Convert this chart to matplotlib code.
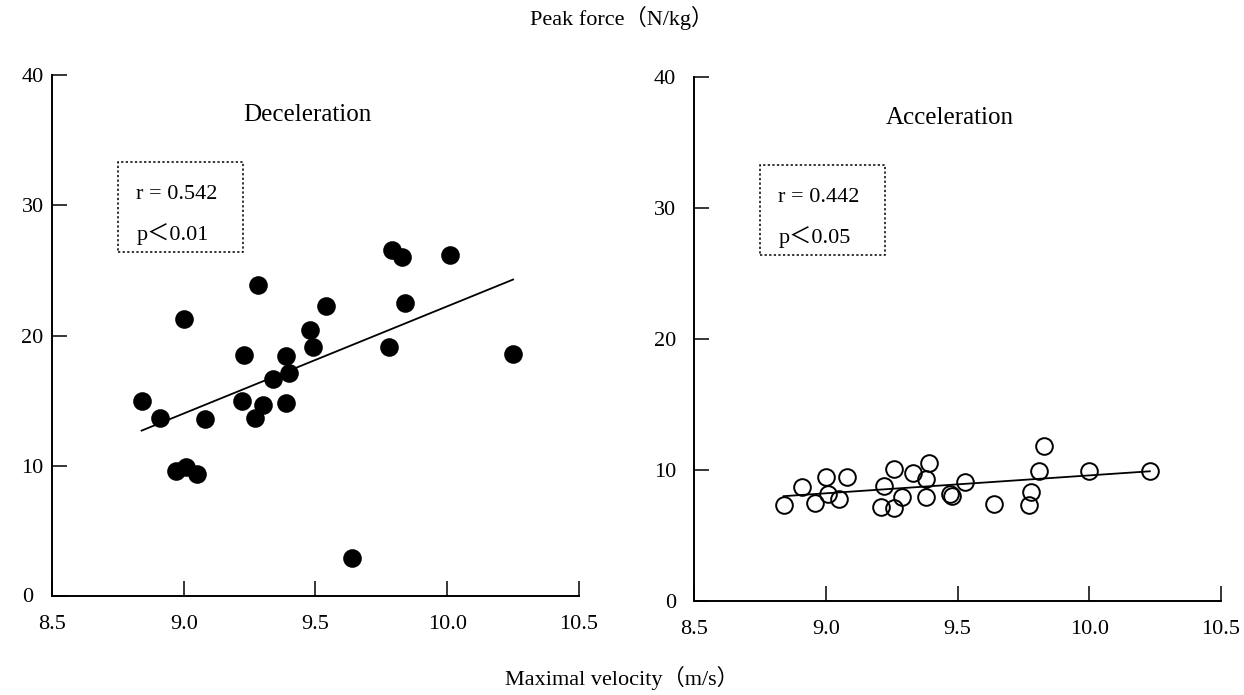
import matplotlib.pyplot as plt
from matplotlib.patches import Rectangle

plt.rcParams['font.family'] = ['Liberation Serif', 'Noto Sans CJK JP']

# deceleration phase (filled markers)
dec_velocity = [8.84, 8.91, 9.00, 8.97, 9.01, 9.05, 9.08, 9.23, 9.22, 9.28, 9.27, 9.30, 9.34,
                9.39, 9.40, 9.39, 9.48, 9.49, 9.54, 9.64, 9.78, 9.79, 9.83, 9.84, 10.01, 10.25]
dec_force = [15.0, 13.7, 21.3, 9.6, 9.9, 9.4, 13.6, 18.5, 15.0, 23.9, 13.7, 14.7, 16.7,
             18.4, 17.1, 14.8, 20.4, 19.1, 22.3, 2.9, 19.1, 26.6, 26.0, 22.5, 26.2, 18.6]
dec_fit_x = [8.84, 10.25]
dec_fit_y = [12.7, 24.3]

# acceleration phase (open markers)
acc_velocity = [8.84, 8.91, 9.00, 8.96, 9.01, 9.05, 9.08, 9.22, 9.21, 9.26, 9.26, 9.29, 9.33,
                9.39, 9.38, 9.38, 9.47, 9.48, 9.53, 9.64, 9.83, 9.81, 9.78, 9.77, 10.00, 10.23]
acc_force = [7.3, 8.7, 9.5, 7.5, 8.2, 7.8, 9.5, 8.8, 7.2, 10.1, 7.1, 7.9, 9.8,
             10.5, 9.3, 7.9, 8.2, 8.0, 9.1, 7.4, 11.8, 9.9, 8.3, 7.3, 9.9, 9.9]
acc_fit_x = [8.84, 10.23]
acc_fit_y = [8.0, 9.9]

x_ticks = [8.5, 9.0, 9.5, 10.0, 10.5]
x_labels = ['8.5', '9.0', '9.5', '10.0', '10.5']
y_ticks = [0, 10, 20, 30, 40]

fig = plt.figure(figsize=(12.44, 6.95), dpi=100)
ax1 = fig.add_axes([0.0418, 0.1424, 0.4236, 0.7496])
ax2 = fig.add_axes([0.5579, 0.1353, 0.4236, 0.7539])

panels = [
    (ax1, dec_velocity, dec_force, dec_fit_x, dec_fit_y, 'black', 'Deceleration',
     'r = 0.542', 'p＜0.01', 6),
    (ax2, acc_velocity, acc_force, acc_fit_x, acc_fit_y, 'none', 'Acceleration',
     'r = 0.442', 'p＜0.05', 13),
]

for ax, vx, fy, fx, fit, face, title, rtxt, ptxt, ypad in panels:
    ax.plot(fx, fit, color='black', lw=1.3, zorder=2)
    ax.plot(vx, fy, 'o', ms=12, mfc=face, mec='black', mew=1.4, zorder=3)

    ax.set_xlim(8.5, 10.5)
    ax.set_ylim(0, 40)
    ax.set_xticks(x_ticks)
    ax.set_xticklabels(x_labels)
    ax.set_yticks(y_ticks)
    for s in ['top', 'right']:
        ax.spines[s].set_visible(False)
    for s in ['left', 'bottom']:
        ax.spines[s].set_linewidth(1.4)
    ax.tick_params(axis='x', direction='in', length=10.5, width=1.1, pad=14, labelsize=16)
    ax.tick_params(axis='y', direction='in', length=11, width=1.1, pad=ypad, labelsize=16)

    ax.text(9.47, 36.9, title, ha='center', va='center', fontsize=18)
    ax.add_patch(Rectangle((8.75, 26.4), 0.475, 6.9, fill=False, ls=(0, (1.5, 1.5)),
                           lw=1.1, ec='black'))
    ax.text(8.82, 30.8, rtxt, ha='left', va='center', fontsize=16)
    ax.text(8.82, 27.8, ptxt, ha='left', va='center', fontsize=16)

# origin label of the left panel sits further out than the other ticks
ax1.set_yticklabels(['', '10', '20', '30', '40'])
ax1.annotate('0', xy=(8.5, 0), xytext=(-19, -1), textcoords='offset pixels',
             ha='right', va='center', fontsize=16)

fig.text(0.5, 0.974, 'Peak force（N/kg）', ha='center', va='center', fontsize=16)
fig.text(0.5, 0.024, 'Maximal velocity（m/s）', ha='center', va='center', fontsize=16)

plt.savefig('out.png', dpi=100)
